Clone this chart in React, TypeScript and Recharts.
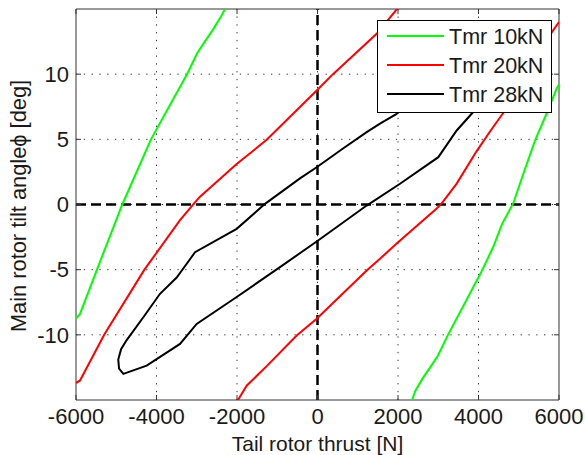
import React from 'react';
import { LineChart, Line, XAxis, YAxis, ReferenceLine, ReferenceArea, Label } from 'recharts';

const xTicks = [-6000, -4000, -2000, 0, 2000, 4000, 6000];
const yTicks = [-10, -5, 0, 5, 10];
const xDomain: [number, number] = [-6000, 6000];
const yDomain: [number, number] = [-15, 15];

const xLabel = 'Tail rotor thrust [N]';
const yLabel = 'Main rotor tilt angle\u03D5 [deg]';

const tmr10Left: [number, number][] = [
  [-6000, -8.75], [-5900, -8.4], [-5486, -5.05], [-4850, 0], [-4137, 5], [-3242, 10],
  [-2990, 11.6], [-2800, 12.5], [-2600, 13.4], [-2420, 14.3], [-2298, 15],
];
const tmr10Right: [number, number][] = [
  [2350, -15], [2430, -14.3], [2600, -13.4], [2800, -12.5], [2990, -11.6], [3242, -10], [4050, -5.3],
  [4360, -3.3], [4584, -1.5], [4865, 0.1], [5118, 2.4], [5404, 4.9], [5694, 7], [5943, 8.9], [6000, 9.2],
];
const tmr20Left: [number, number][] = [
  [-6000, -13.7], [-5900, -13.5], [-5300, -10], [-4300, -5], [-3416, -1.2], [-3060, 0.1],
  [-2919, 0.6], [-2008, 3.1], [-1262, 4.97], [-20, 8.75], [385, 10], [1470, 13.1], [1975, 15],
];
const tmr20Right: [number, number][] = [
  [-1975, -15], [-1760, -13.9], [-1262, -12.4], [-517, -10.05], [-20, -8.77], [1222, -5.07],
  [1503, -4.3], [1967, -3.0], [2961, -0.3], [3086, 0.08], [3458, 1.6], [3955, 4.1], [4286, 5.6],
  [4609, 7], [5300, 10], [5818, 13.2], [6000, 14],
];
const tmr28Loop: [number, number][] = [
  [1967, 6.96], [1553, 6.2], [1222, 5.55], [634, 4.3], [-20, 2.86], [-435, 2.0], [-1304, 0.05],
  [-2008, -1.87], [-3043, -3.66], [-3168, -4.2], [-3499, -5.6], [-3913, -6.85], [-4327, -8.65],
  [-4741, -10.4], [-4880, -11.1], [-4950, -11.9], [-4930, -12.6], [-4824, -13.0],
  [-4244, -12.36], [-3416, -10.7], [-3002, -9.16], [-2008, -7.1], [-932, -4.8], [-20, -2.84],
  [1222, -0.08], [2050, 1.59], [3002, 3.63], [3458, 5.68], [3830, 6.96],
  [4327, 8.65], [4741, 10.4], [4907, 11.2], [4948, 12.2], [4824, 13.0], [4244, 12.36],
  [3416, 10.7], [3002, 9.16], [1967, 6.96],
];

const seriesNames = ['Tmr 10kN', 'Tmr 20kN', 'Tmr 28kN'];
const seriesColors = ['#00ff00', '#ff0000', '#000000'];

const toData = (pts: [number, number][]) => pts.map(([x, y]) => ({ x, y }));

const segments = [
  { key: 'g1', pts: tmr10Left, color: seriesColors[0] },
  { key: 'g2', pts: tmr10Right, color: seriesColors[0] },
  { key: 'r1', pts: tmr20Left, color: seriesColors[1] },
  { key: 'r2', pts: tmr20Right, color: seriesColors[1] },
  { key: 'k1', pts: tmr28Loop, color: seriesColors[2] },
];

const FONT = '"Liberation Sans", Arial, Helvetica, sans-serif';
const xTickLen = 0.384; // y-units (~5px)
const yTickLen = 124; // x-units (~5px)
const innerX = xTicks.filter((t) => t > xDomain[0] && t < xDomain[1]);

export default function App() {
  return (
    <div style={{ position: 'absolute', left: 0, top: 0, width: 585, height: 455, background: '#fff', fontFamily: FONT }}>
      <LineChart width={585} height={455} margin={{ top: 9, right: 26, bottom: 0, left: 0 }}>
        <XAxis
          type="number"
          dataKey="x"
          domain={xDomain}
          ticks={xTicks}
          allowDataOverflow
          height={55}
          tickLine={false}
          axisLine={false}
          tickSize={0}
          tickMargin={8}
          interval={0}
          tick={{ fontSize: 22, fill: '#1a1a1a', fontFamily: FONT }}
        >
          <Label
            content={() => (
              <text x={317.5} y={451} textAnchor="middle" fontSize={21} fill="#1a1a1a" fontFamily={FONT}>
                {xLabel}
              </text>
            )}
          />
        </XAxis>
        <YAxis
          type="number"
          domain={yDomain}
          ticks={yTicks}
          allowDataOverflow
          width={76}
          tickLine={false}
          axisLine={false}
          tickSize={0}
          tickMargin={7}
          interval={0}
          tick={{ fontSize: 22, fill: '#1a1a1a', fontFamily: FONT }}
        >
          <Label
            content={() => (
              <text x={26} y={206} transform="rotate(-90 26 206)" textAnchor="middle" fontSize={21.8} fill="#1a1a1a" fontFamily={FONT}>
                {yLabel}
              </text>
            )}
          />
        </YAxis>
        {innerX.map((t) => (
          <ReferenceLine key={'gx' + t} x={t} stroke="#333" strokeWidth={1} strokeDasharray="1.3 6.5" />
        ))}
        {yTicks.map((t) => (
          <ReferenceLine key={'gy' + t} y={t} stroke="#333" strokeWidth={1} strokeDasharray="1.3 6.5" />
        ))}
        <ReferenceLine x={0} stroke="#000" strokeWidth={2.5} strokeDasharray="10 5" />
        <ReferenceLine y={0} stroke="#000" strokeWidth={2.5} strokeDasharray="10 5" />
        {segments.map((s) => (
          <Line
            key={s.key}
            data={toData(s.pts)}
            dataKey="y"
            type="linear"
            stroke={s.color}
            strokeWidth={2}
            dot={false}
            activeDot={false}
            isAnimationActive={false}
            legendType="none"
          />
        ))}
        {xTicks.map((t) => (
          <ReferenceLine key={'xb' + t} segment={[{ x: t, y: yDomain[0] }, { x: t, y: yDomain[0] + xTickLen }]} stroke="#333" strokeWidth={1} />
        ))}
        {xTicks.map((t) => (
          <ReferenceLine key={'xt' + t} segment={[{ x: t, y: yDomain[1] }, { x: t, y: yDomain[1] - xTickLen }]} stroke="#333" strokeWidth={1} />
        ))}
        {yTicks.map((t) => (
          <ReferenceLine key={'yl' + t} segment={[{ x: xDomain[0], y: t }, { x: xDomain[0] + yTickLen, y: t }]} stroke="#333" strokeWidth={1} />
        ))}
        {yTicks.map((t) => (
          <ReferenceLine key={'yr' + t} segment={[{ x: xDomain[1], y: t }, { x: xDomain[1] - yTickLen, y: t }]} stroke="#333" strokeWidth={1} />
        ))}
        <ReferenceArea x1={xDomain[0]} x2={xDomain[1]} y1={yDomain[0]} y2={yDomain[1]} fill="none" fillOpacity={0} stroke="#333" strokeWidth={1} />
      </LineChart>
      <div
        style={{
          position: 'absolute',
          left: 377,
          top: 20,
          width: 175,
          height: 93,
          border: '1px solid #000',
          background: '#fff',
          boxSizing: 'border-box',
        }}
      >
        {seriesNames.map((name, i) => (
          <React.Fragment key={name}>
            <div style={{ position: 'absolute', left: 9, top: 14 + i * 29, width: 57, height: 2, background: seriesColors[i] }} />
            <div
              style={{
                position: 'absolute',
                left: 71,
                top: 2 + i * 29,
                height: 28,
                lineHeight: '28px',
                fontSize: 21.5,
                color: '#1a1a1a',
                whiteSpace: 'nowrap',
                fontFamily: FONT,
              }}
            >
              {name}
            </div>
          </React.Fragment>
        ))}
      </div>
    </div>
  );
}
